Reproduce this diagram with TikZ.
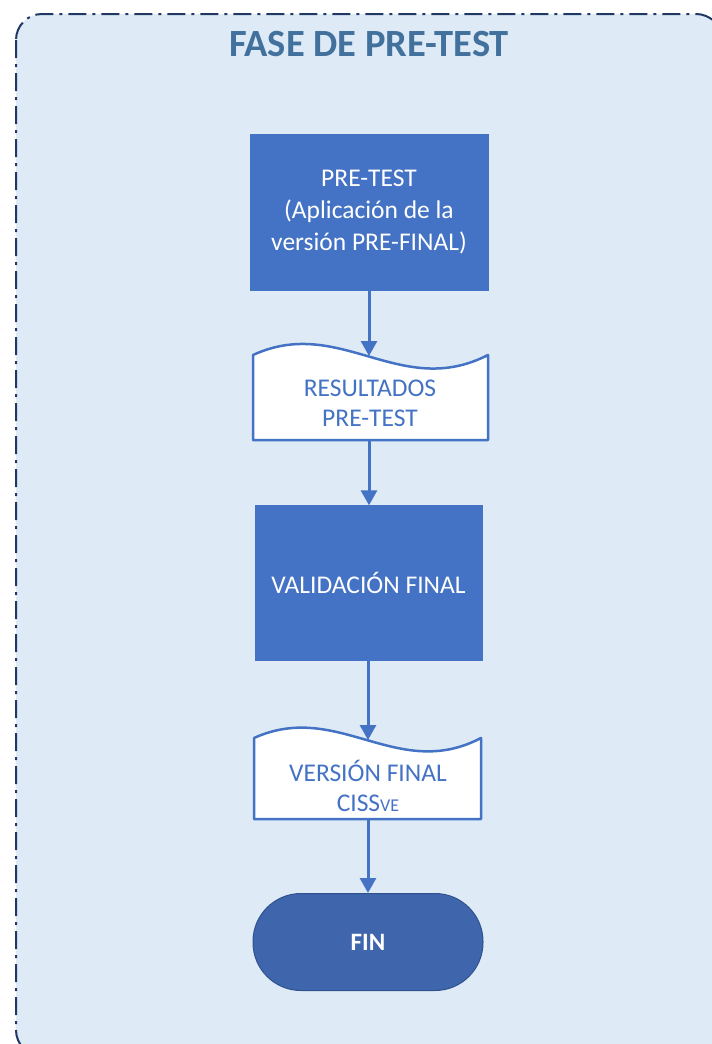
\documentclass[tikz,border=0pt]{standalone}
\usepackage{fontspec}
\setmainfont{Carlito}
\usetikzlibrary{arrows.meta}
\definecolor{frameFill}{HTML}{DEEBF7}
\definecolor{frameLine}{HTML}{1F3864}
\definecolor{boxBlue}{HTML}{4472C4}
\definecolor{finBlue}{HTML}{3F65AD}
\definecolor{finLine}{HTML}{2F528F}
\definecolor{titleBlue}{HTML}{41719C}
\tikzset{
  procbox/.style={fill=boxBlue, draw=boxBlue, text=white, minimum width=238pt, minimum height=156pt, align=center, font=\fontsize{25.5}{32}\selectfont, inner sep=0pt},
  docline/.style={draw=boxBlue, line width=2.5pt, fill=white, line join=round},
  doctext/.style={text=boxBlue, align=center, font=\fontsize{25.5}{30}\selectfont, inner sep=0pt},
  flow/.style={draw=boxBlue, line width=3pt, -{Triangle[length=15pt,width=16pt]}},
}
\begin{document}
\begin{tikzpicture}[x=1pt,y=-1pt]
\useasboundingbox (0,0) rectangle (712,1044);
\clip (0,0) rectangle (712,1044);
% frame
\draw[fill=frameFill, draw=frameLine, line width=2pt, rounded corners=26pt,
  dash pattern=on 18pt off 6pt on 3pt off 6pt] (16,14) rectangle (722,1056);
\node[text=titleBlue, font=\fontsize{38.5}{40}\selectfont\bfseries] (title) at (369,44) {FASE DE PRE-TEST};

% PRE-TEST box
\node[procbox] (pre) at (369,212) {PRE-TEST\\(Aplicación de la\\versión PRE-FINAL)};

% Document 1
\draw[docline] (253,355) .. controls (340,315) and (400,400) .. (488,355) -- (488,440) -- (253,440) -- cycle;
\coordinate (d1top) at (369,356);
\coordinate (d1bot) at (369,440);
\node[doctext] (res) at (370,403) {RESULTADOS\\PRE-TEST};

% VALIDACION box
\node[procbox, minimum width=227pt, minimum height=155pt] (val) at (368.5,583) {VALIDACIÓN FINAL};

% Document 2
\draw[docline] (254,738) .. controls (338,700) and (397,782) .. (481,738) -- (481,819) -- (254,819) -- cycle;
\coordinate (d2top) at (368,740);
\coordinate (d2bot) at (368,819);
\node[doctext] (ver) at (368,786) {VERSIÓN FINAL\\CISS{\fontsize{18}{18}\selectfont VE}};

% FIN
\node[fill=finBlue, draw=finLine, line width=1pt, rounded corners=48pt, minimum width=230pt, minimum height=97pt, text=white, font=\fontsize{25}{28}\selectfont\bfseries] (fin) at (368,942) {FIN};

% arrows
\draw[flow] (pre.south -| d1top) -- (d1top);
\draw[flow] (d1bot) -- (val.north -| d1bot);
\draw[flow] (val.south -| d2top) -- (d2top);
\draw[flow] (d2bot) -- (fin.north -| d2bot);
\end{tikzpicture}
\end{document}
